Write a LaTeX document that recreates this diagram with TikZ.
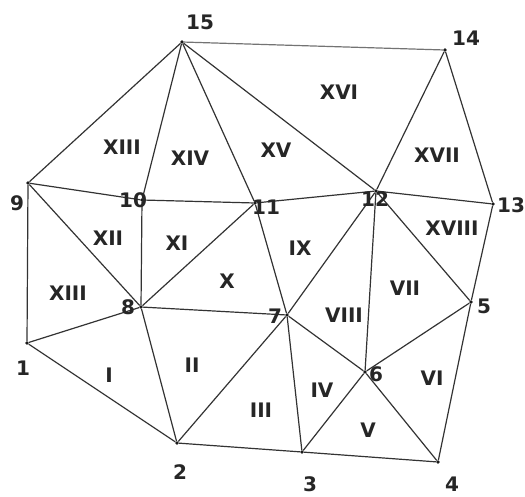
\documentclass[tikz,border=0pt]{standalone}
\usepackage{fontspec}
\setmainfont{DejaVu Sans}
\begin{document}
\begin{tikzpicture}[x=1pt,y=-1pt,
  vtx/.style={circle,fill=black!90,inner sep=0pt,minimum size=3.6pt},
  edge/.style={draw=black!80,line width=1.2pt},
  num/.style={font=\bfseries\fontsize{20}{20}\selectfont,text=black!85,inner sep=0pt},
  reg/.style={font=\bfseries\fontsize{20}{20}\selectfont,text=black!85,inner sep=0pt}]
\useasboundingbox (0,0) rectangle (525,496);
% vertices
\node[vtx] (n1)  at (27,343) {};
\node[vtx] (n2)  at (177,443) {};
\node[vtx] (n3)  at (302,452) {};
\node[vtx] (n4)  at (438,462) {};
\node[vtx] (n5)  at (471,302) {};
\node[vtx] (n6)  at (365,372) {};
\node[vtx] (n7)  at (287,315) {};
\node[vtx] (n8)  at (141,307) {};
\node[vtx] (n9)  at (28,183) {};
\node[vtx] (n10) at (142,200) {};
\node[vtx] (n11) at (255,203) {};
\node[vtx] (n12) at (376,191) {};
\node[vtx] (n13) at (493,204) {};
\node[vtx] (n14) at (445,50) {};
\node[vtx] (n15) at (182,42) {};
% edges
\draw[edge,draw=black!55] (n15) -- (n14);
\draw[edge] (n15) -- (n9);
\draw[edge] (n15) -- (n10);
\draw[edge] (n15) -- (n11);
\draw[edge] (n15) -- (n12);
\draw[edge] (n14) -- (n12);
\draw[edge] (n14) -- (n13);
\draw[edge] (n13) -- (n12);
\draw[edge] (n13) -- (n5);
\draw[edge] (n12) -- (n11);
\draw[edge] (n12) -- (n7);
\draw[edge] (n12) -- (n6);
\draw[edge] (n12) -- (n5);
\draw[edge] (n11) -- (n10);
\draw[edge] (n11) -- (n7);
\draw[edge] (n11) -- (n8);
\draw[edge] (n10) -- (n9);
\draw[edge] (n10) -- (n8);
\draw[edge] (n9) -- (n8);
\draw[edge] (n9) -- (n1);
\draw[edge] (n8) -- (n1);
\draw[edge] (n8) -- (n2);
\draw[edge] (n8) -- (n7);
\draw[edge] (n7) -- (n2);
\draw[edge] (n7) -- (n3);
\draw[edge] (n7) -- (n6);
\draw[edge] (n6) -- (n3);
\draw[edge] (n6) -- (n4);
\draw[edge] (n6) -- (n5);
\draw[edge] (n5) -- (n4);
\draw[edge] (n4) -- (n3);
\draw[edge] (n3) -- (n2);
\draw[edge] (n2) -- (n1);
% vertex numbers
\node[num] (l15) at (200,22) {15};
\node[num] (l14) at (466,38) {14};
\node[num] (l13) at (511,205) {13};
\node[num] (l12) at (375,199) {12};
\node[num] (l11) at (266,207) {11};
\node[num] (l10) at (133,200) {10};
\node[num] (l9)  at (17,203) {9};
\node[num] (l8)  at (128,307) {8};
\node[num] (l7)  at (275,316) {7};
\node[num] (l6)  at (376,374) {6};
\node[num] (l5)  at (484,306) {5};
\node[num] (l4)  at (452,484) {4};
\node[num] (l3)  at (310,484) {3};
\node[num] (l2)  at (180,472) {2};
\node[num] (l1)  at (23,368) {1};
% region labels
\node[reg] (r13a) at (122,147) {XIII};
\node[reg] (r14)  at (190,158) {XIV};
\node[reg] (r15)  at (276,150) {XV};
\node[reg] (r16)  at (339,92)  {XVI};
\node[reg] (r17)  at (437,155) {XVII};
\node[reg] (r18)  at (452,228) {XVIII};
\node[reg] (r12)  at (108,238) {XII};
\node[reg] (r11)  at (177,243) {XI};
\node[reg] (r9)   at (300,248) {IX};
\node[reg] (r10)  at (227,281) {X};
\node[reg] (r13b) at (68,293)  {XIII};
\node[reg] (r8)   at (344,315) {VIII};
\node[reg] (r7)   at (405,288) {VII};
\node[reg] (r1)   at (109,375) {I};
\node[reg] (r2)   at (192,365) {II};
\node[reg] (r3)   at (261,410) {III};
\node[reg] (r4)   at (322,390) {IV};
\node[reg] (r5)   at (368,430) {V};
\node[reg] (r6)   at (432,378) {VI};
\end{tikzpicture}
\end{document}
